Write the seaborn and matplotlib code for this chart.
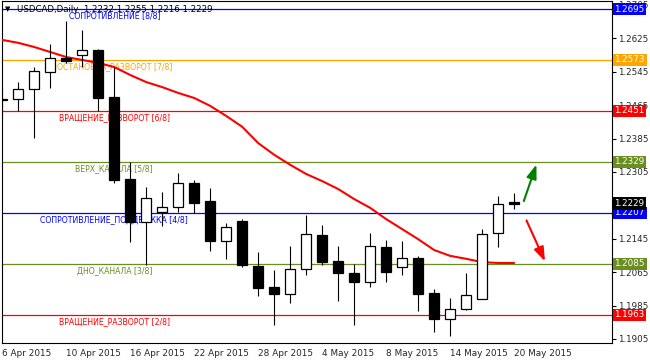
import numpy as np
import pandas as pd
import matplotlib
matplotlib.use("Agg")
import matplotlib.pyplot as plt
import seaborn as sns

# USDCAD D1 mumlari, 6 Apr - 20 May 2015
acilis = [1.2476, 1.2480, 1.2503, 1.2544, 1.2578, 1.2585, 1.2597, 1.2484, 1.2288, 1.2185,
          1.2209, 1.2221, 1.2278, 1.2235, 1.2140, 1.2188, 1.2080, 1.2029, 1.2013, 1.2073,
          1.2154, 1.2092, 1.2063, 1.2041, 1.2125, 1.2077, 1.2099, 1.2015, 1.1953, 1.1977,
          1.2001, 1.2159, 1.2232]
yuksek = [1.2506, 1.2520, 1.2556, 1.2611, 1.2666, 1.2645, 1.2599, 1.2556, 1.2329, 1.2269,
          1.2257, 1.2302, 1.2286, 1.2267, 1.2183, 1.2192, 1.2113, 1.2070, 1.2128, 1.2202,
          1.2178, 1.2128, 1.2085, 1.2159, 1.2142, 1.2140, 1.2104, 1.2025, 1.2003, 1.2063,
          1.2168, 1.2247, 1.2255]
dusuk = [1.2436, 1.2451, 1.2386, 1.2506, 1.2566, 1.2556, 1.2451, 1.2278, 1.2137, 1.2082,
         1.2175, 1.2209, 1.2207, 1.2116, 1.2097, 1.2077, 1.2008, 1.1939, 1.1991, 1.2058,
         1.2082, 1.1996, 1.1939, 1.2029, 1.2041, 1.2058, 1.1972, 1.1922, 1.1912, 1.1974,
         1.2001, 1.2125, 1.2216]
kapanis = [1.2479, 1.2503, 1.2547, 1.2578, 1.2571, 1.2597, 1.2482, 1.2286, 1.2185, 1.2243,
           1.2221, 1.2278, 1.2231, 1.2140, 1.2173, 1.2082, 1.2027, 1.2013, 1.2073, 1.2156,
           1.2089, 1.2063, 1.2041, 1.2128, 1.2065, 1.2099, 1.2013, 1.1953, 1.1977, 1.2010,
           1.2156, 1.2228, 1.2229]

# hareketli ortalama (kirmizi cizgi), bir onceki gunden basliyor
ortalama = [1.2628, 1.2621, 1.2614, 1.2604, 1.2592, 1.2580, 1.2573, 1.2566, 1.2556, 1.2537,
            1.2520, 1.2508, 1.2494, 1.2482, 1.2463, 1.2439, 1.2413, 1.2374, 1.2346, 1.2322,
            1.2300, 1.2283, 1.2264, 1.2240, 1.2219, 1.2192, 1.2168, 1.2144, 1.2118, 1.2104,
            1.2097, 1.2089, 1.2087, 1.2087]

# Murrey seviyeleri
seviyeler = [1.2695, 1.2573, 1.2451, 1.2329, 1.2207, 1.2085, 1.1963]
seviye_adlari = ["СОПРОТИВЛЕНИЕ [8/8]", "ОСТАНОВКА_РАЗВОРОТ [7/8]", "ВРАЩЕНИЕ_РАЗВОРОТ [6/8]",
                 "ВЕРХ_КАНАЛА [5/8]", "СОПРОТИВЛЕНИЕ_ПОДДЕРЖКА [4/8]", "ДНО_КАНАЛА [3/8]",
                 "ВРАЩЕНИЕ_РАЗВОРОТ [2/8]"]
seviye_renkleri = ["#0000FF", "#FFA500", "#FF0000", "#6B8E23", "#0000FF", "#6B8E23", "#FF0000"]

tarih_etiketleri = ["6 Apr 2015", "10 Apr 2015", "16 Apr 2015", "22 Apr 2015", "28 Apr 2015",
                    "4 May 2015", "8 May 2015", "14 May 2015", "20 May 2015"]
fiyat_tikleri = [1.1905, 1.1985, 1.2065, 1.2145, 1.2225, 1.2305, 1.2385, 1.2465, 1.2545,
                 1.2625, 1.2705]
# 1.2225 etiketi son fiyat kutusunun altinda kaliyor, yazilmiyor
gizli_tikler = [1.2225]

sns.set_style("white")
plt.rcParams['font.family'] = ['DejaVu Sans']

df = pd.DataFrame({"Acilis": acilis, "Yuksek": yuksek, "Dusuk": dusuk, "Kapanis": kapanis})
df["Gun"] = np.arange(len(df))
df["Yukselis"] = df["Kapanis"] >= df["Acilis"]

fig = plt.figure(figsize=(6.5, 3.61), dpi=100)
ax = fig.add_axes([2 / 650, 18 / 361, 610 / 650, 342 / 361])

# seviye cizgileri ve yazilari
for fiyat, ad, renk in zip(seviyeler, seviye_adlari, seviye_renkleri):
    ax.axhline(fiyat, color=renk, lw=0.9, zorder=1)
    ax.annotate(ad, xy=(7, fiyat), xytext=(0, -1.5), textcoords="offset points",
                ha="center", va="top", color=renk, fontsize=5.6, zorder=2)

# hareketli ortalama
ma_df = pd.DataFrame({"Gun": np.arange(-1, len(ortalama) - 1), "MA": ortalama})
sns.lineplot(data=ma_df, x="Gun", y="MA", color="#FF0000", lw=1.5, ax=ax, zorder=3)

# mumlar: fitil + govde
ax.vlines(df["Gun"], df["Dusuk"], df["Yuksek"], color="black", lw=0.8, zorder=4)
govde_alt = df[["Acilis", "Kapanis"]].min(axis=1)
govde_boy = (df["Kapanis"] - df["Acilis"]).abs().clip(lower=0.00025)
yuzler = ["white" if y else "black" for y in df["Yukselis"]]
ax.bar(df["Gun"], govde_boy, bottom=govde_alt, width=0.62, color=yuzler,
       edgecolor="black", lw=0.9, zorder=5)

# yon oklari (son mumdan seviyelere)
son = len(df) - 1
ax.annotate("", xy=(son + 1.45, seviyeler[3]), xytext=(son + 0.55, kapanis[-1]),
            arrowprops=dict(arrowstyle="-|>,head_width=0.25,head_length=0.7",
                            color="#008000", lw=1.5, mutation_scale=12))
ax.annotate("", xy=(son + 2.0, seviyeler[5]), xytext=(son + 0.7, kapanis[-1] - 0.0034),
            arrowprops=dict(arrowstyle="-|>,head_width=0.25,head_length=0.7",
                            color="#FF0000", lw=1.5, mutation_scale=12))

ax.set_xlim(-0.02, 38.12)
ax.set_ylim(1.18954, 1.27142)

ax.set_xticks(np.arange(0, len(df), 4))
ax.set_xticklabels(tarih_etiketleri, ha="left", fontsize=6.4)
ax.set_yticks(fiyat_tikleri)
ax.set_yticklabels(["" if t in gizli_tikler else f"{t:.4f}" for t in fiyat_tikleri], fontsize=6.3)
ax.yaxis.tick_right()
ax.tick_params(axis="both", length=3, width=0.8, color="black", pad=1.5)
ax.set_xlabel("")
ax.set_ylabel("")
for s in ax.spines.values():
    s.set_color("black")
    s.set_linewidth(0.8)

# sag taraftaki renkli fiyat kutulari
kutu_trans = ax.get_yaxis_transform()
for fiyat, renk in zip(seviyeler, seviye_renkleri):
    ax.text(1.004, fiyat, f"{fiyat:.4f}", transform=kutu_trans, ha="left", va="center",
            color="white", fontsize=6.3, zorder=10, clip_on=False,
            bbox=dict(boxstyle="square,pad=0.2", fc=renk, ec="none"))
ax.text(1.004, kapanis[-1], f"{kapanis[-1]:.4f}", transform=kutu_trans, ha="left", va="center",
        color="white", fontsize=6.3, zorder=10, clip_on=False,
        bbox=dict(boxstyle="square,pad=0.2", fc="black", ec="none"))

# baslik
baslik = "USDCAD,Daily  {:.4f} {:.4f} {:.4f} {:.4f}".format(acilis[-1], yuksek[-1], dusuk[-1], kapanis[-1])
fig.text(5 / 650, 1 - 9 / 361, "▼", fontsize=5, va="center", ha="left", color="black")
fig.text(17 / 650, 1 - 9 / 361, baslik, fontsize=6.2, va="center", ha="left", color="black")

fig.savefig("out.png", dpi=100)
